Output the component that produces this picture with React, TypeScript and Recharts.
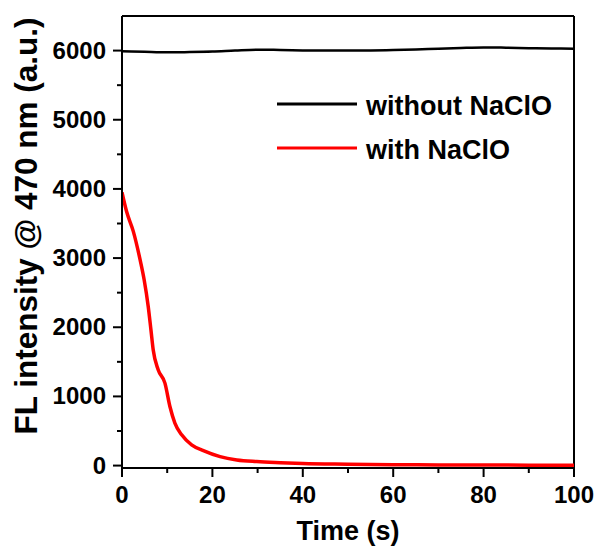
import React from "react";
import { LineChart, Line, XAxis, YAxis, Legend, ReferenceLine } from "recharts";

const blackTime = [0, 5, 10, 15, 20, 25, 30, 35, 40, 45, 50, 55, 60, 65, 70, 75, 80, 85, 90, 95, 100];
const blackValue = [5990, 5982, 5975, 5978, 5985, 6000, 6012, 6010, 6003, 6000, 6000, 6003, 6008, 6015, 6028, 6038, 6045, 6042, 6035, 6030, 6028];

const redTime = [0, 1, 2.5, 4, 4.9, 5.8, 6.4, 6.9, 8, 9.5, 10.6, 11.7, 13.2, 15.4, 18, 21.7, 25.4, 29.8, 35, 40, 50, 60, 70, 80, 90, 100];
const redValue = [3950, 3676, 3386, 2977, 2687, 2301, 1964, 1674, 1385, 1192, 854, 614, 444, 300, 217, 130, 82, 58, 42, 30, 20, 12, 10, 8, 6, 5];

const xTicks = [0, 10, 20, 30, 40, 50, 60, 70, 80, 90, 100];
const yTicks = [0, 500, 1000, 1500, 2000, 2500, 3000, 3500, 4000, 4500, 5000, 5500, 6000];

const seriesNames = ["without NaClO", "with NaClO"];
const seriesColors = ["#000000", "#ff0000"];

const X_MAX = 100;
const Y_MAX = 6500;

const blackData = blackTime.map((t, i) => ({ t, v: blackValue[i] }));
const redData = redTime.map((t, i) => ({ t, v: redValue[i] }));

const FONT = "'Liberation Sans', Arial, sans-serif";

const YTick = (props: any) => {
  const { x, y, payload } = props;
  const major = payload.value % 1000 === 0;
  return (
    <g>
      <line x1={x - (major ? 9 : 5)} x2={x} y1={y} y2={y} stroke="#000" strokeWidth={2} />
      {major && (
        <text x={x - 16} y={y + 8} textAnchor="end" fontFamily={FONT} fontWeight="bold" fontSize={24} fill="#000">
          {payload.value}
        </text>
      )}
    </g>
  );
};

const XTick = (props: any) => {
  const { x, y, payload } = props;
  const major = payload.value % 20 === 0;
  return (
    <g>
      <line x1={x} x2={x} y1={y} y2={y + (major ? 9 : 5)} stroke="#000" strokeWidth={2} />
      {major && (
        <text x={x} y={y + 35} textAnchor="middle" fontFamily={FONT} fontWeight="bold" fontSize={24} fill="#000">
          {payload.value}
        </text>
      )}
    </g>
  );
};

const LegendContent = () => (
  <svg width={597} height={200} style={{ display: "block" }}>
    {seriesNames.map((name, i) => (
      <g key={name}>
        <line x1={277} x2={357} y1={104 + i * 44} y2={104 + i * 44} stroke={seriesColors[i]} strokeWidth={3} />
        <text x={366} y={115 + i * 44} fontFamily={FONT} fontWeight="bold" fontSize={27} fill="#000">
          {name}
        </text>
      </g>
    ))}
  </svg>
);

export default function App() {
  return (
    <div style={{ position: "absolute", left: 0, top: 0, width: 597, height: 547, background: "#fff" }}>
      <LineChart width={597} height={547} margin={{ top: 16, right: 23, bottom: 0, left: 0 }}>
        <XAxis
          xAxisId="b"
          dataKey="t"
          type="number"
          domain={[0, X_MAX]}
          ticks={xTicks}
          interval={0}
          height={79}
          tickSize={0}
          tickMargin={0}
          tick={<XTick />}
          tickLine={false}
          axisLine={{ stroke: "#000", strokeWidth: 2 }}
          allowDataOverflow
        />
        <YAxis
          yAxisId="l"
          type="number"
          domain={[-35, Y_MAX]}
          ticks={yTicks}
          interval={0}
          width={122}
          tickSize={0}
          tickMargin={0}
          tick={<YTick />}
          tickLine={false}
          axisLine={{ stroke: "#000", strokeWidth: 2 }}
          allowDataOverflow
        />
        <ReferenceLine xAxisId="b" yAxisId="l" y={Y_MAX} stroke="#000" strokeWidth={2} />
        <ReferenceLine xAxisId="b" yAxisId="l" x={X_MAX} stroke="#000" strokeWidth={2} />
        <Line
          xAxisId="b"
          yAxisId="l"
          data={blackData}
          dataKey="v"
          name={seriesNames[0]}
          type="monotone"
          stroke={seriesColors[0]}
          strokeWidth={2.5}
          dot={false}
          isAnimationActive={false}
        />
        <Line
          xAxisId="b"
          yAxisId="l"
          data={redData}
          dataKey="v"
          name={seriesNames[1]}
          type="monotone"
          stroke={seriesColors[1]}
          strokeWidth={3.5}
          dot={false}
          isAnimationActive={false}
        />
        <Legend
          layout="horizontal"
          verticalAlign="middle"
          align="center"
          content={<LegendContent />}
          wrapperStyle={{ left: 0, top: 0, width: 597, height: 200, pointerEvents: "none" }}
        />
        <text x={348} y={540} textAnchor="middle" fontFamily={FONT} fontWeight="bold" fontSize={27} fill="#000">
          Time (s)
        </text>
        <text
          transform="translate(37, 226) rotate(-90)"
          textAnchor="middle"
          fontFamily={FONT}
          fontWeight="bold"
          fontSize={31.5}
          fill="#000"
        >
          FL intensity @ 470 nm (a.u.)
        </text>
      </LineChart>
    </div>
  );
}
